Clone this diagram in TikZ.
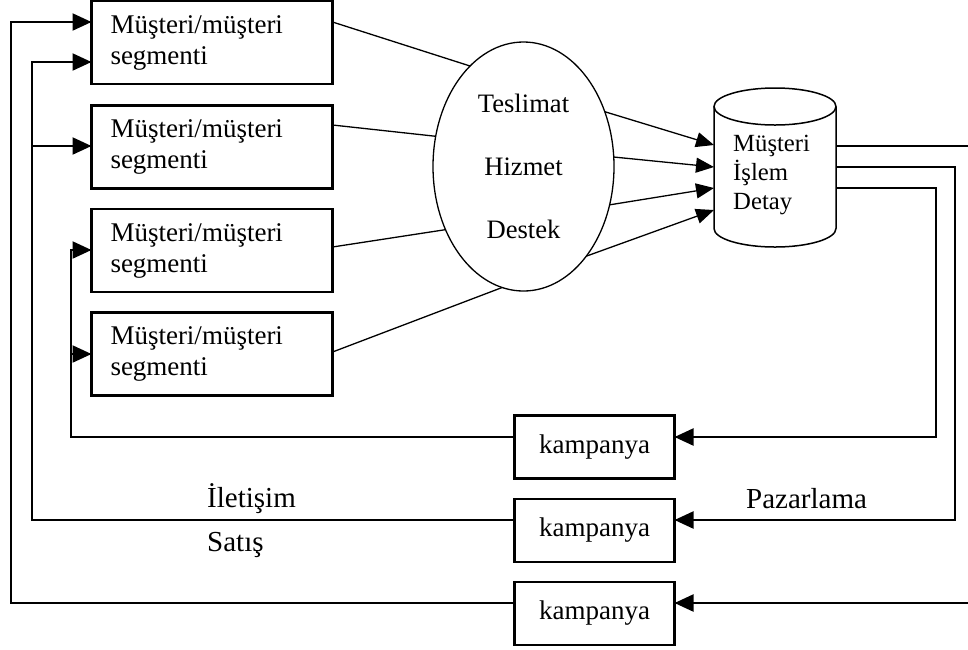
\documentclass[tikz,border=0pt]{standalone}
\usepackage{fontspec}
\setmainfont{Liberation Serif}
\usetikzlibrary{shapes.geometric,arrows.meta}

\tikzset{
  segbox/.style={draw, line width=2.2pt, rectangle, minimum width=241pt, minimum height=83pt,
    text width=203pt, inner xsep=19pt, align=left, outer sep=0pt,
    font=\fontsize{27}{31}\selectfont},
  kampbox/.style={draw, line width=2.2pt, rectangle, minimum width=160pt, minimum height=63pt,
    outer sep=0pt, font=\fontsize{27}{31}\selectfont},
  hub/.style={draw, line width=1.3pt, ellipse, minimum width=181pt, minimum height=249pt,
    inner sep=0pt, outer sep=0pt, align=center, font=\fontsize{26.6}{32}\selectfont},
  dbframe/.style={rectangle, minimum width=122pt, minimum height=159pt, inner sep=0pt, outer sep=0pt},
  cyl/.style={line width=1.5pt},
  lbl/.style={anchor=west, inner sep=0pt, font=\fontsize{29}{33}\selectfont},
  feed/.style={line width=2.2pt},
  feedarrow/.style={line width=2.2pt, -{Triangle[length=19pt,width=17pt]}},
  thin/.style={line width=1.3pt},
  thinarrow/.style={line width=1.3pt, -{Triangle[length=18pt,width=15pt]}},
}

\begin{document}
\begin{tikzpicture}[x=1pt,y=-1pt]
  \useasboundingbox[fill=white] (0,0) rectangle (968,649);

  % customer segment boxes
  \node[segbox] (s1) at (212,42.5) {Müşteri/müşteri\\segmenti};
  \node[segbox] (s2) at (212,147)  {Müşteri/müşteri\\segmenti};
  \node[segbox] (s3) at (212,250.5) {Müşteri/müşteri\\segmenti};
  \node[segbox] (s4) at (212,354)  {Müşteri/müşteri\\segmenti};

  % delivery / service / support
  \node[hub] (hub) at (523.5,166.5) {Teslimat\\[31pt]Hizmet\\[31pt]Destek};

  % customer transaction store (cylinder outline around an invisible frame)
  \node[dbframe] (db) at (775,167.5) {};
  \draw[cyl] (db.north west) ++(0,18.5) -- ([yshift=18.5pt]db.south west)
    arc[start angle=180, end angle=360, x radius=61pt, y radius=18.5pt]
    -- ([yshift=-18.5pt]db.north east);
  \draw[cyl] ([yshift=-18.5pt]db.north) ellipse [x radius=61pt, y radius=18.5pt];
  \node[anchor=west, align=left, inner sep=0pt, font=\fontsize{24.7}{29}\selectfont]
    (dbtext) at (733,175) {Müşteri\\İşlem\\Detay};

  % campaign boxes
  \node[kampbox] (k1) at (594.5,447) {kampanya};
  \node[kampbox] (k2) at (594.5,530.5) {kampanya};
  \node[kampbox] (k3) at (594.5,613.5) {kampanya};

  % segments to hub
  \draw[thin] (s1.east |- 0,22)  -- (hub.118.7);
  \draw[thin] (s2.east |- 0,125) -- (hub.161.6);
  \draw[thin] (s3.east |- 0,247) -- (hub.219.1);
  \draw[thin] (s4.east |- 0,352) -- (hub.260);

  % hub to store
  \draw[thinarrow] (hub.34.7)  -- (db.west |- 0,145);
  \draw[thinarrow] (hub.6.6)   -- (db.west |- 0,167);
  \draw[thinarrow] (hub.336.5) -- (db.west |- 0,188);
  \draw[thinarrow] (hub.305.7) -- (db.west |- 0,210);

  % store to campaigns
  \coordinate (r3a) at (980,146);
  \coordinate (r3b) at (980,603);
  \coordinate (r2a) at (955,167);
  \coordinate (r2b) at (955,520);
  \coordinate (r1a) at (936,188);
  \coordinate (r1b) at (936,437);
  \draw[feedarrow] (db.east |- r3a) -- (r3a) -- (r3b) -- (k3.east |- r3b);
  \draw[feedarrow] (db.east |- r2a) -- (r2a) -- (r2b) -- (k2.east |- r2b);
  \draw[feedarrow] (db.east |- r1a) -- (r1a) -- (r1b) -- (k1.east |- r1b);

  % campaigns back to segments
  \coordinate (l3a) at (11,603);
  \coordinate (l3b) at (11,22);
  \coordinate (l2a) at (32,520);
  \coordinate (l2b) at (32,62);
  \coordinate (l2c) at (32,146);
  \coordinate (l1a) at (71,437);
  \coordinate (l1b) at (71,250);
  \coordinate (l1c) at (71,354);
  \draw[feedarrow] (k3.west |- l3a) -- (l3a) -- (l3b) -- (s1.west |- l3b);
  \draw[feedarrow] (k2.west |- l2a) -- (l2a) -- (l2b) -- (s1.west |- l2b);
  \draw[feedarrow] (l2c) -- (s2.west |- l2c);
  \draw[feedarrow] (k1.west |- l1a) -- (l1a) -- (l1b) -- (s3.west |- l1b);
  \draw[feedarrow] (l1c) -- (s4.west |- l1c);

  % channel labels
  \node[lbl] (iletisim) at (207,499) {İletişim};
  \node[lbl] (satis) at (207,545) {Satış};
  \node[lbl] (pazarlama) at (746,499) {Pazarlama};
\end{tikzpicture}
\end{document}
